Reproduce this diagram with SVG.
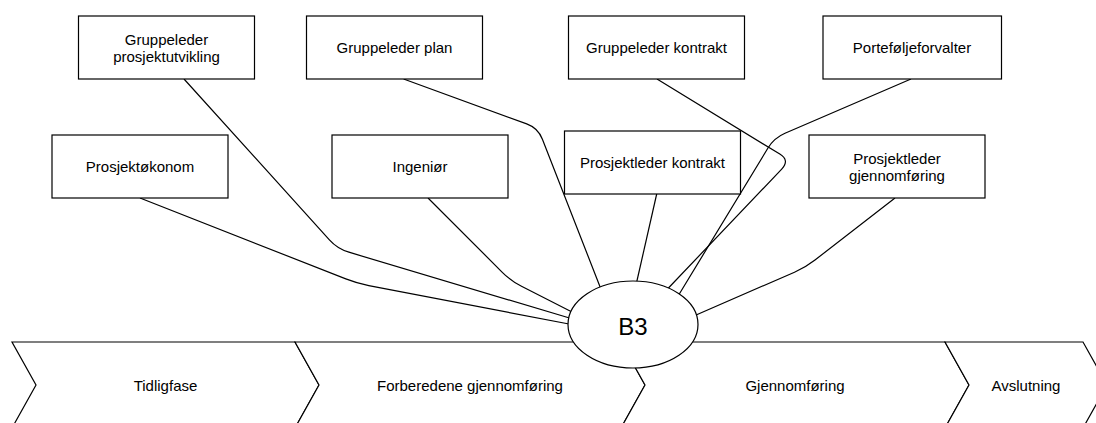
<svg xmlns="http://www.w3.org/2000/svg" width="1096" height="423" viewBox="0 0 1096 423">
  <style>
    .phase { fill: #ffffff; stroke: #000000; stroke-width: 1.2; }
    .box { fill: #ffffff; stroke: #000000; stroke-width: 1.2; }
    .edge { fill: none; stroke: #000000; stroke-width: 1.2; }
    .hub { fill: #ffffff; stroke: #000000; stroke-width: 1.2; }
    text { font-family: "Liberation Sans", Arial, sans-serif; font-size: 15px; fill: #000000; text-anchor: middle; }
    .big { font-size: 24px; }
  </style>

  <!-- project phases -->
  <g id="phases">
    <g id="phase-tidligfase">
      <path class="phase" d="M12,342 L295,342 L319,385 L295,428 L12,428 L36,385 Z"/>
      <text x="165.5" y="390.5">Tidligfase</text>
    </g>
    <g id="phase-forberedende">
      <path class="phase" d="M295,342 L621,342 L645,385 L621,428 L295,428 L319,385 Z"/>
      <text x="470" y="390.5">Forberedene gjennomføring</text>
    </g>
    <g id="phase-gjennomforing">
      <path class="phase" d="M621,342 L945,342 L969,385 L945,428 L621,428 L645,385 Z"/>
      <text x="795" y="390.5">Gjennomføring</text>
    </g>
    <g id="phase-avslutning">
      <path class="phase" d="M945,342 L1083,342 L1107,385 L1083,428 L945,428 L969,385 Z"/>
      <text x="1026" y="390.5">Avslutning</text>
    </g>
  </g>

  <!-- connectors from roles to B3 -->
  <g id="connectors">
    <path class="edge" d="M140,198 L345.8,278.9 Q357,283.3 368.8,285.6 L569,324"/>
    <path class="edge" d="M184,79 L329.4,239.9 Q337.4,248.8 348.9,252.2 L569.5,318"/>
    <path class="edge" d="M428,198 L502.3,272.3 Q510.8,280.8 521.5,286.3 L571.5,311.8"/>
    <path class="edge" d="M403.6,79 L526.7,123.9 Q538,128 542.4,139.2 L600.5,288"/>
    <path class="edge" d="M656.7,194 L636.7,282"/>
    <path class="edge" d="M657,79 L779.8,154.1 Q790,160.4 781.7,169.1 L667.5,289"/>
    <path class="edge" d="M911,79 L785,133.3 Q774,138 767.8,148.3 L679,294.5"/>
    <path class="edge" d="M895,198 L815,260 Q805.5,267.4 794.5,272.2 L695.5,315.2"/>
  </g>

  <!-- central node -->
  <g id="node-b3">
    <ellipse class="hub" cx="633" cy="324.5" rx="65" ry="43.5"/>
    <text class="big" x="633" y="334.5">B3</text>
  </g>

  <!-- roles -->
  <g id="node-gruppeleder-prosjektutvikling">
    <rect class="box" x="78.5" y="16" width="176" height="63"/>
    <text x="166.5" y="44.5">Gruppeleder</text>
    <text x="166.5" y="62">prosjektutvikling</text>
  </g>
  <g id="node-gruppeleder-plan">
    <rect class="box" x="306.5" y="16" width="176" height="63"/>
    <text x="394.5" y="53">Gruppeleder plan</text>
  </g>
  <g id="node-gruppeleder-kontrakt">
    <rect class="box" x="568.5" y="16" width="176" height="63"/>
    <text x="656.5" y="53">Gruppeleder kontrakt</text>
  </g>
  <g id="node-portefoljeforvalter">
    <rect class="box" x="823" y="16" width="178.5" height="63"/>
    <text x="912" y="53">Porteføljeforvalter</text>
  </g>
  <g id="node-prosjektokonom">
    <rect class="box" x="52" y="135" width="176" height="63"/>
    <text x="140" y="172">Prosjektøkonom</text>
  </g>
  <g id="node-ingenior">
    <rect class="box" x="332" y="135" width="176" height="63"/>
    <text x="420" y="172">Ingeniør</text>
  </g>
  <g id="node-prosjektleder-kontrakt">
    <rect class="box" x="564.5" y="131" width="176" height="63"/>
    <text x="652.5" y="168">Prosjektleder kontrakt</text>
  </g>
  <g id="node-prosjektleder-gjennomforing">
    <rect class="box" x="809" y="135" width="176" height="63"/>
    <text x="897" y="163.5">Prosjektleder</text>
    <text x="897" y="181">gjennomføring</text>
  </g>
</svg>
